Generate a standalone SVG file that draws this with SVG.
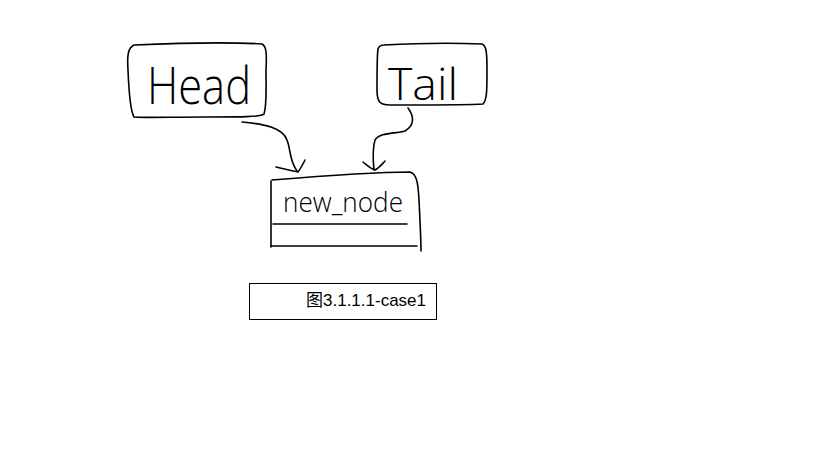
<svg xmlns="http://www.w3.org/2000/svg" width="819" height="460" viewBox="0 0 819 460">
<style>
.hand{fill:none;stroke:#000;stroke-width:1.6;stroke-linecap:round;stroke-linejoin:round}
.ht{font-family:"Open Sans","Liberation Sans",sans-serif;font-weight:300;fill:#000}
.cap{font-family:"Liberation Sans","Noto Sans CJK SC",sans-serif;font-size:17px;fill:#000}
</style>
<rect width="819" height="460" fill="#fff"/>
<g id="head">
<path class="hand" d="M134,45 C180,43 230,42 262,44 C266,46 267,52 266,70 C266,90 267,105 264,114 C262,117 240,117 205,117 C170,117 145,118 134,117 C131,112 129,95 128,70 C127,55 128,48 134,45 Z"/>
<text class="ht" x="147" y="104" font-size="52" textLength="104" lengthAdjust="spacingAndGlyphs">Head</text>
</g>
<g id="tail">
<path class="hand" d="M384,45 C420,43 460,43 482,44 C486,46 487,50 487,70 C487,90 487,100 483,104 C470,105 430,105 390,105 C380,105 377,102 377,90 C377,70 377,55 378,49 C379,46 381,45 384,45 Z"/>
<text class="ht" x="388" y="100" font-size="44" textLength="70" lengthAdjust="spacingAndGlyphs">Tail</text>
</g>
<g id="new_node">
<path class="hand" d="M271,181 L271,247"/>
<path class="hand" d="M272,180 C320,176 370,172 410,172 C416,174 418,180 419,200 C420,220 421,240 421,251"/>
<path class="hand" d="M273,224 L407,224"/>
<path class="hand" d="M271,246 L417,246"/>
<text class="ht" x="283" y="212" font-size="28" textLength="120" lengthAdjust="spacingAndGlyphs">new_node</text>
</g>
<g id="connectors">
<path class="hand" d="M242,122 C265,124 283,128 287,140 C291,150 289,160 297,171"/>
<path class="hand" d="M276,167 C285,169 292,171 298,172 C301,168 303,164 305,160"/>
<path class="hand" d="M408,108 C414,116 415,125 405,131 C395,134 380,132 375,140 C372,150 373,160 374,170"/>
<path class="hand" d="M363,162 C368,166 371,169 375,170 C379,168 382,164 385,161"/>
</g>
<g id="caption">
<rect x="249.5" y="283.5" width="187" height="36" fill="none" stroke="#000" stroke-width="1"/>
<text class="cap" x="306" y="305.5">图3.1.1.1-case1</text>
</g>
</svg>
